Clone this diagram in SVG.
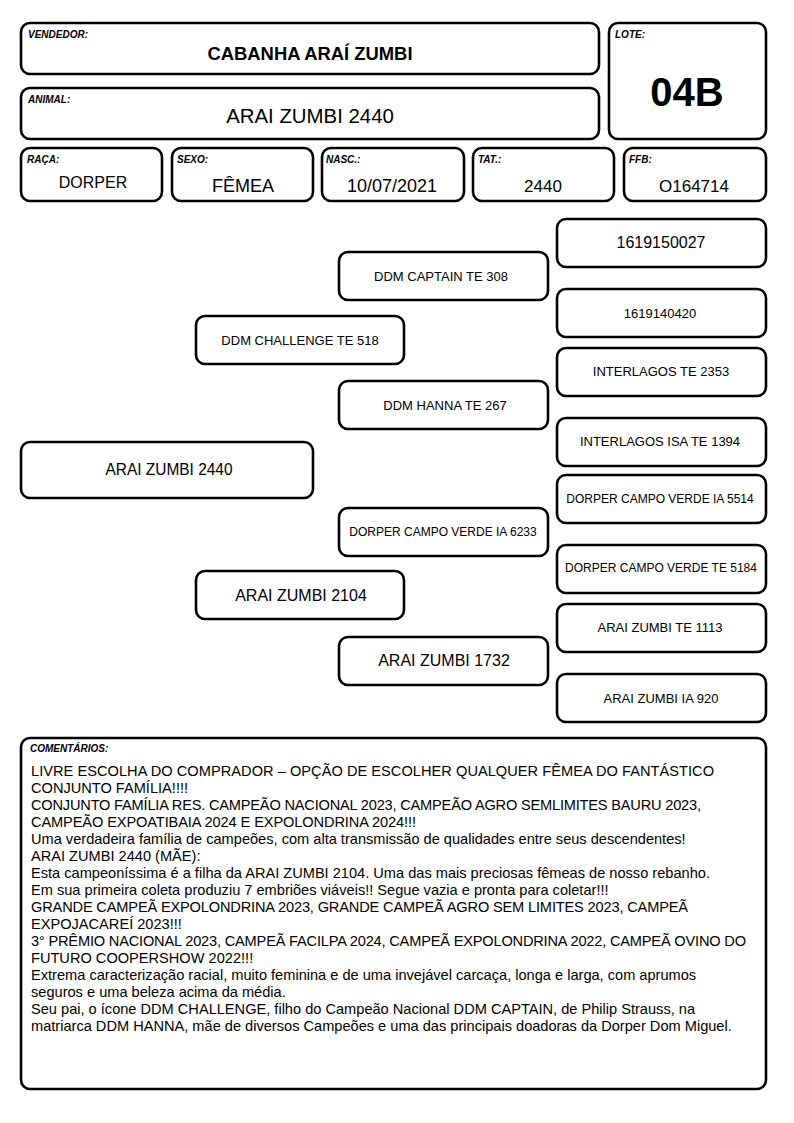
<svg xmlns="http://www.w3.org/2000/svg" width="794" height="1123" viewBox="0 0 794 1123">
<style>
.box{fill:#fff;stroke:#000;stroke-width:2.6}
.lbl{font-family:"Liberation Sans",Arial,sans-serif;font-size:10px;font-weight:bold;font-style:italic;fill:#000}
.t{font-family:"Liberation Sans",Arial,sans-serif;fill:#000;text-anchor:middle}
.c{font-family:"Liberation Sans",Arial,sans-serif;font-size:14.6px;fill:#000}
</style>
<rect width="794" height="1123" fill="#fff"/>
<g id="vendedor"><rect class="box" x="21" y="23" width="578" height="51" rx="9"/><text class="lbl" x="28" y="38">VENDEDOR:</text><text class="t" x="310" y="60" font-size="18.4" font-weight="bold">CABANHA ARAÍ ZUMBI</text></g>
<g id="animal"><rect class="box" x="21" y="88" width="578" height="51" rx="9"/><text class="lbl" x="28" y="103">ANIMAL:</text><text class="t" x="310" y="123" font-size="20.4">ARAI ZUMBI 2440</text></g>
<g id="lote"><rect class="box" x="609" y="23" width="157" height="116" rx="9"/><text class="lbl" x="615" y="38">LOTE:</text><text class="t" x="687" y="106" font-size="40" font-weight="bold">04B</text></g>
<g id="raca"><rect class="box" x="21" y="148" width="141" height="53" rx="9"/><text class="lbl" x="27" y="163">RAÇA:</text><text class="t" x="93" y="188" font-size="16">DORPER</text></g>
<g id="sexo"><rect class="box" x="172" y="148" width="141" height="53" rx="9"/><text class="lbl" x="177" y="163">SEXO:</text><text class="t" x="243" y="192" font-size="18">FÊMEA</text></g>
<g id="nasc"><rect class="box" x="322" y="148" width="142" height="53" rx="9"/><text class="lbl" x="326" y="163">NASC.:</text><text class="t" x="392" y="192" font-size="18">10/07/2021</text></g>
<g id="tat"><rect class="box" x="473" y="148" width="141" height="53" rx="9"/><text class="lbl" x="478" y="163">TAT.:</text><text class="t" x="543" y="192" font-size="17">2440</text></g>
<g id="ffb"><rect class="box" x="624" y="148" width="142" height="53" rx="9"/><text class="lbl" x="629" y="163">FFB:</text><text class="t" x="694" y="192" font-size="17">O164714</text></g>
<g id="connectors"></g>
<g id="p0"><rect class="box" x="21" y="442" width="292" height="56" rx="9"/><text class="t" x="169" y="475" font-size="16" textLength="127" lengthAdjust="spacingAndGlyphs">ARAI ZUMBI 2440</text></g>
<g id="p1a"><rect class="box" x="196" y="316" width="208" height="48" rx="9"/><text class="t" x="300" y="345" font-size="13">DDM CHALLENGE TE 518</text></g>
<g id="p1b"><rect class="box" x="196" y="571" width="208" height="48" rx="9"/><text class="t" x="301" y="601" font-size="16">ARAI ZUMBI 2104</text></g>
<g id="p2a"><rect class="box" x="339" y="252" width="209" height="48" rx="9"/><text class="t" x="441" y="281" font-size="13">DDM CAPTAIN TE 308</text></g>
<g id="p2b"><rect class="box" x="339" y="381" width="209" height="48" rx="9"/><text class="t" x="445" y="410" font-size="13">DDM HANNA TE 267</text></g>
<g id="p2c"><rect class="box" x="339" y="508" width="209" height="48" rx="9"/><text class="t" x="443" y="536" font-size="12">DORPER CAMPO VERDE IA 6233</text></g>
<g id="p2d"><rect class="box" x="339" y="637" width="209" height="48" rx="9"/><text class="t" x="444" y="666" font-size="16">ARAI ZUMBI 1732</text></g>
<g id="p3a"><rect class="box" x="557" y="219" width="209" height="48" rx="9"/><text class="t" x="661" y="248" font-size="16">1619150027</text></g>
<g id="p3b"><rect class="box" x="557" y="289" width="209" height="48" rx="9"/><text class="t" x="660" y="318" font-size="13">1619140420</text></g>
<g id="p3c"><rect class="box" x="557" y="348" width="209" height="48" rx="9"/><text class="t" x="661" y="376" font-size="13">INTERLAGOS TE 2353</text></g>
<g id="p3d"><rect class="box" x="557" y="418" width="209" height="48" rx="9"/><text class="t" x="660" y="446" font-size="13">INTERLAGOS ISA TE 1394</text></g>
<g id="p3e"><rect class="box" x="557" y="475" width="209" height="48" rx="9"/><text class="t" x="660" y="503" font-size="12">DORPER CAMPO VERDE IA 5514</text></g>
<g id="p3f"><rect class="box" x="557" y="545" width="209" height="48" rx="9"/><text class="t" x="661" y="572" font-size="12">DORPER CAMPO VERDE TE 5184</text></g>
<g id="p3g"><rect class="box" x="557" y="604" width="209" height="48" rx="9"/><text class="t" x="660" y="632" font-size="13">ARAI ZUMBI TE 1113</text></g>
<g id="p3h"><rect class="box" x="557" y="674" width="209" height="48" rx="9"/><text class="t" x="661" y="703" font-size="13">ARAI ZUMBI IA 920</text></g>
<g id="comentarios"><rect class="box" x="21" y="738" width="745" height="351" rx="9"/><text class="lbl" x="30" y="752">COMENTÁRIOS:</text>
<text class="c" x="31" y="776" textLength="683" lengthAdjust="spacing">LIVRE ESCOLHA DO COMPRADOR – OPÇÃO DE ESCOLHER QUALQUER FÊMEA DO FANTÁSTICO</text>
<text class="c" x="31" y="793">CONJUNTO FAMÍLIA!!!!</text>
<text class="c" x="31" y="810" textLength="670" lengthAdjust="spacing">CONJUNTO FAMÍLIA RES. CAMPEÃO NACIONAL 2023, CAMPEÃO AGRO SEMLIMITES BAURU 2023,</text>
<text class="c" x="31" y="827" textLength="385" lengthAdjust="spacing">CAMPEÃO EXPOATIBAIA 2024 E EXPOLONDRINA 2024!!!</text>
<text class="c" x="31" y="844">Uma verdadeira família de campeões, com alta transmissão de qualidades entre seus descendentes!</text>
<text class="c" x="31" y="861">ARAI ZUMBI 2440 (MÃE):</text>
<text class="c" x="31" y="878">Esta campeoníssima é a filha da ARAI ZUMBI 2104. Uma das mais preciosas fêmeas de nosso rebanho.</text>
<text class="c" x="31" y="895">Em sua primeira coleta produziu 7 embriões viáveis!! Segue vazia e pronta para coletar!!!</text>
<text class="c" x="31" y="912" textLength="657" lengthAdjust="spacing">GRANDE CAMPEÃ EXPOLONDRINA 2023, GRANDE CAMPEÃ AGRO SEM LIMITES 2023, CAMPEÃ</text>
<text class="c" x="31" y="929">EXPOJACAREÍ 2023!!!</text>
<text class="c" x="31" y="946" textLength="715" lengthAdjust="spacing">3° PRÊMIO NACIONAL 2023, CAMPEÃ FACILPA 2024, CAMPEÃ EXPOLONDRINA 2022, CAMPEÃ OVINO DO</text>
<text class="c" x="31" y="963">FUTURO COOPERSHOW 2022!!!</text>
<text class="c" x="31" y="980">Extrema caracterização racial, muito feminina e de uma invejável carcaça, longa e larga, com aprumos</text>
<text class="c" x="31" y="997">seguros e uma beleza acima da média.</text>
<text class="c" x="31" y="1014">Seu pai, o ícone DDM CHALLENGE, filho do Campeão Nacional DDM CAPTAIN, de Philip Strauss, na</text>
<text class="c" x="31" y="1031">matriarca DDM HANNA, mãe de diversos Campeões e uma das principais doadoras da Dorper Dom Miguel.</text>
</g>
</svg>
